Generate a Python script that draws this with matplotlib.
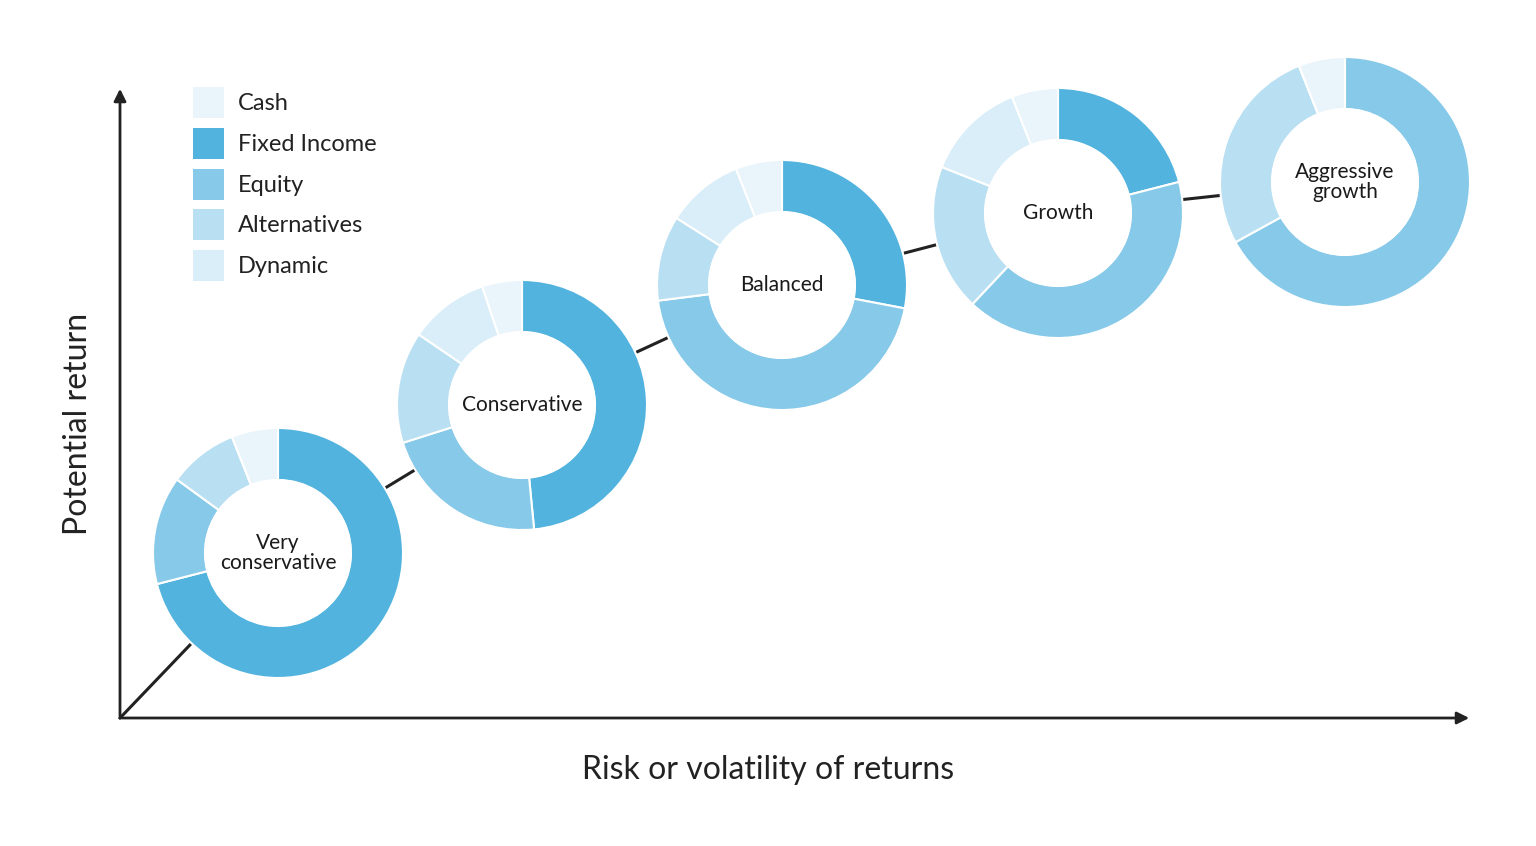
import matplotlib
matplotlib.use("Agg")
import matplotlib.pyplot as plt

categories = ["Cash", "Fixed Income", "Equity", "Alternatives", "Dynamic"]
colors = {"Cash": "#eaf4fb", "Fixed Income": "#52b3de", "Equity": "#86c9e8",
          "Alternatives": "#b9dff2", "Dynamic": "#d9eef8"}
# order of drawing clockwise from 12 o'clock
draw_order = ["Fixed Income", "Equity", "Alternatives", "Dynamic", "Cash"]

portfolios = ["Very\nconservative", "Conservative", "Balanced", "Growth", "Aggressive\ngrowth"]
fixed_income = [71, 47, 28, 21, 0]
equity = [14, 21, 45, 41, 67]
alternatives = [9, 14, 11, 19, 27]
dynamic = [0, 10, 10, 13, 0]
cash = [6, 5, 6, 6, 6]

# layout (pixel coords, y measured from top)
centers = [(278, 553), (522, 405), (782, 285), (1058, 213), (1345, 182)]
R_OUT, WIDTH = 125, 52
H = 846

plt.rcParams['font.family'] = ['Lato', 'DejaVu Sans']
fig = plt.figure(figsize=(15.36, 8.46), dpi=100)
ax = fig.add_axes([0, 0, 1, 1])

# trend line
xs = [120] + [c[0] for c in centers]
ys = [H - 718] + [H - c[1] for c in centers]
ax.plot(xs, ys, color="#222222", lw=2.2, zorder=1)

series = {"Fixed Income": fixed_income, "Equity": equity, "Alternatives": alternatives,
          "Dynamic": dynamic, "Cash": cash}
for i, (name, (cx, cy)) in enumerate(zip(portfolios, centers)):
    vals = [series[k][i] for k in draw_order]
    cols = [colors[k] for k in draw_order]
    ax.pie(vals, colors=cols, startangle=90, counterclock=False, radius=R_OUT,
           center=(cx, H - cy), frame=True,
           wedgeprops=dict(width=WIDTH, edgecolor="white", linewidth=1.5, zorder=2))
    # white inner hole (covers line)
    ax.add_patch(plt.Circle((cx, H - cy), R_OUT - WIDTH, color="white", zorder=3))
    ax.text(cx, H - cy, name, ha="center", va="center", fontsize=15,
            color="#1a1a1a", linespacing=0.95, zorder=4)

# axes arrows
ax.annotate("", xy=(120, H - 86), xytext=(120, H - 719),
            arrowprops=dict(arrowstyle="-|>", color="#222222", lw=2, mutation_scale=18))
ax.annotate("", xy=(1472, H - 718), xytext=(119, H - 718),
            arrowprops=dict(arrowstyle="-|>", color="#222222", lw=2, mutation_scale=18))
ax.text(78, H - 424, "Potential return", rotation=90, ha="center", va="center",
        fontsize=23, color="#222222")
ax.text(768, H - 770, "Risk or volatility of returns", ha="center", va="center",
        fontsize=23, color="#222222")

# legend
leg_y = [103, 144, 185, 225, 266]
for cat, y in zip(categories, leg_y):
    ax.add_patch(plt.Rectangle((193, H - y - 15), 31, 31, facecolor=colors[cat],
                               edgecolor="none", zorder=2))
    ax.text(238, H - y, cat, ha="left", va="center", fontsize=17, color="#222222")

ax.set_xlim(0, 1536)
ax.set_ylim(0, H)
ax.set_aspect("equal")
ax.axis("off")
fig.savefig("out.png", dpi=100, facecolor="white")
